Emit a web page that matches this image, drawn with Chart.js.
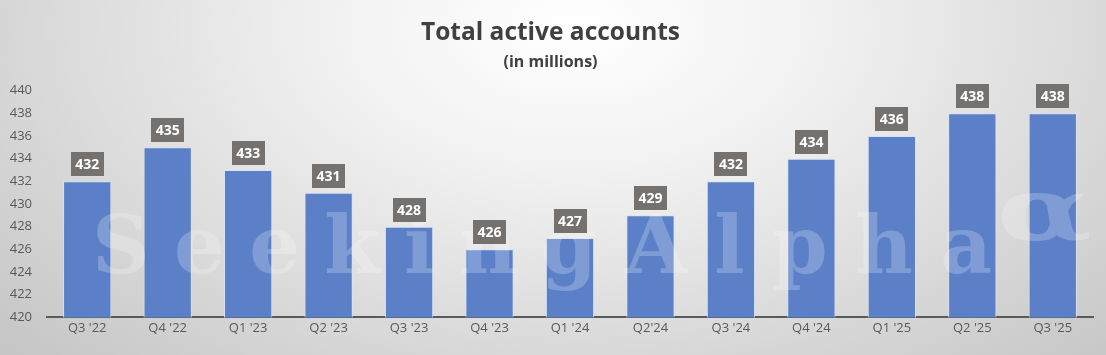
<!DOCTYPE html>
<html>
<head>
<meta charset="utf-8">
<script src="https://cdn.jsdelivr.net/npm/chart.js@4.4.1/dist/chart.umd.min.js"></script>
<style>
  html, body { margin: 0; padding: 0; }
  body {
    width: 1106px; height: 355px; overflow: hidden;
    background: radial-gradient(ellipse 70% 130% at 52% 8%, #ffffff 0%, #f2f2f2 30%, #dcdcdc 65%, #c6c6c6 100%);
  }
  #wrap { position: relative; width: 1106px; height: 355px; }
</style>
</head>
<body>
<div id="wrap"><canvas id="c" width="1106" height="355"></canvas></div>
<script>
const categories = ["Q3 '22", "Q4 '22", "Q1 '23", "Q2 '23", "Q3 '23", "Q4 '23", "Q1 '24", "Q2'24", "Q3 '24", "Q4 '24", "Q1 '25", "Q2 '25", "Q3 '25"];
const accounts = [432, 435, 433, 431, 428, 426, 427, 429, 432, 434, 436, 438, 438];
const titleText = "Total active accounts";
const subtitleText = "(in millions)";
const watermarkWords = ["Seeking", "Alpha"];

function spreadText(ctx, text, x0, x1, y) {
  const w = ctx.measureText(text).width;
  const n = text.length;
  const spacing = (x1 - x0 - w) / (n - 1);
  let x = x0;
  for (const ch of text) {
    ctx.fillText(ch, x, y);
    x += ctx.measureText(ch).width + spacing;
  }
}

const watermark = {
  id: 'watermark',
  afterDatasetsDraw(chart) {
    const ctx = chart.ctx;
    ctx.save();
    ctx.font = "bold 80px 'DejaVu Serif', serif";
    ctx.fillStyle = 'rgba(255,255,255,0.22)';
    ctx.textBaseline = 'alphabetic';
    spreadText(ctx, watermarkWords[0], 92, 597, 273);
    spreadText(ctx, watermarkWords[1], 625, 992, 273);
    ctx.translate(997, 240);
    ctx.scale(1.4, 1);
    ctx.font = "bold 88px 'DejaVu Serif', serif";
    ctx.fillText('\u03B1', 0, 0);
    ctx.restore();
  }
};

const boxLabels = {
  id: 'boxLabels',
  afterDatasetsDraw(chart) {
    const ctx = chart.ctx;
    const meta = chart.getDatasetMeta(0);
    ctx.save();
    ctx.font = "bold 14px 'Open Sans', sans-serif";
    ctx.textAlign = 'center';
    ctx.textBaseline = 'middle';
    meta.data.forEach((bar, i) => {
      const bw = 33, bh = 24;
      const x = bar.x, yb = bar.y - 5;
      ctx.fillStyle = '#75716f';
      ctx.fillRect(Math.round(x - bw / 2), Math.round(yb - bh), bw, bh);
      ctx.fillStyle = '#ffffff';
      ctx.fillText(String(chart.data.datasets[0].data[i]), x, yb - bh / 2 + 1);
    });
    ctx.restore();
  }
};

new Chart(document.getElementById('c'), {
  type: 'bar',
  data: {
    labels: categories,
    datasets: [{
      data: accounts,
      backgroundColor: '#5b80c8',
      borderColor: 'rgba(215,226,246,0.9)',
      borderWidth: 1,
      borderSkipped: 'bottom',
      barPercentage: 0.6,
      categoryPercentage: 1.0
    }]
  },
  options: {
    responsive: false,
    animation: false,
    devicePixelRatio: 1,
    layout: { padding: { left: 8, right: 13, top: 0, bottom: 16 } },
    plugins: {
      legend: { display: false },
      tooltip: { enabled: false },
      title: {
        display: true, text: titleText, color: '#404040',
        font: { family: "'Open Sans', sans-serif", size: 24.5, weight: 'bold' },
        padding: { top: 18, bottom: 5 }
      },
      subtitle: {
        display: true, text: subtitleText, color: '#404040',
        font: { family: "'Open Sans', sans-serif", size: 16, weight: 'bold' },
        padding: { top: 0, bottom: 19 }
      }
    },
    scales: {
      x: {
        grid: { display: false, drawTicks: false },
        border: { display: true, color: '#595959', width: 2 },
        ticks: { color: '#595959', font: { family: "'Open Sans', sans-serif", size: 13 }, padding: 3, maxRotation: 0, autoSkip: false }
      },
      y: {
        min: 420, max: 440,
        grid: { display: false, drawTicks: false },
        border: { display: false },
        afterFit(scale) { scale.width = 39; },
        ticks: { stepSize: 2, color: '#595959', font: { family: "'Open Sans', sans-serif", size: 13 }, padding: 15 }
      }
    }
  },
  plugins: [watermark, boxLabels]
});
</script>
</body>
</html>
